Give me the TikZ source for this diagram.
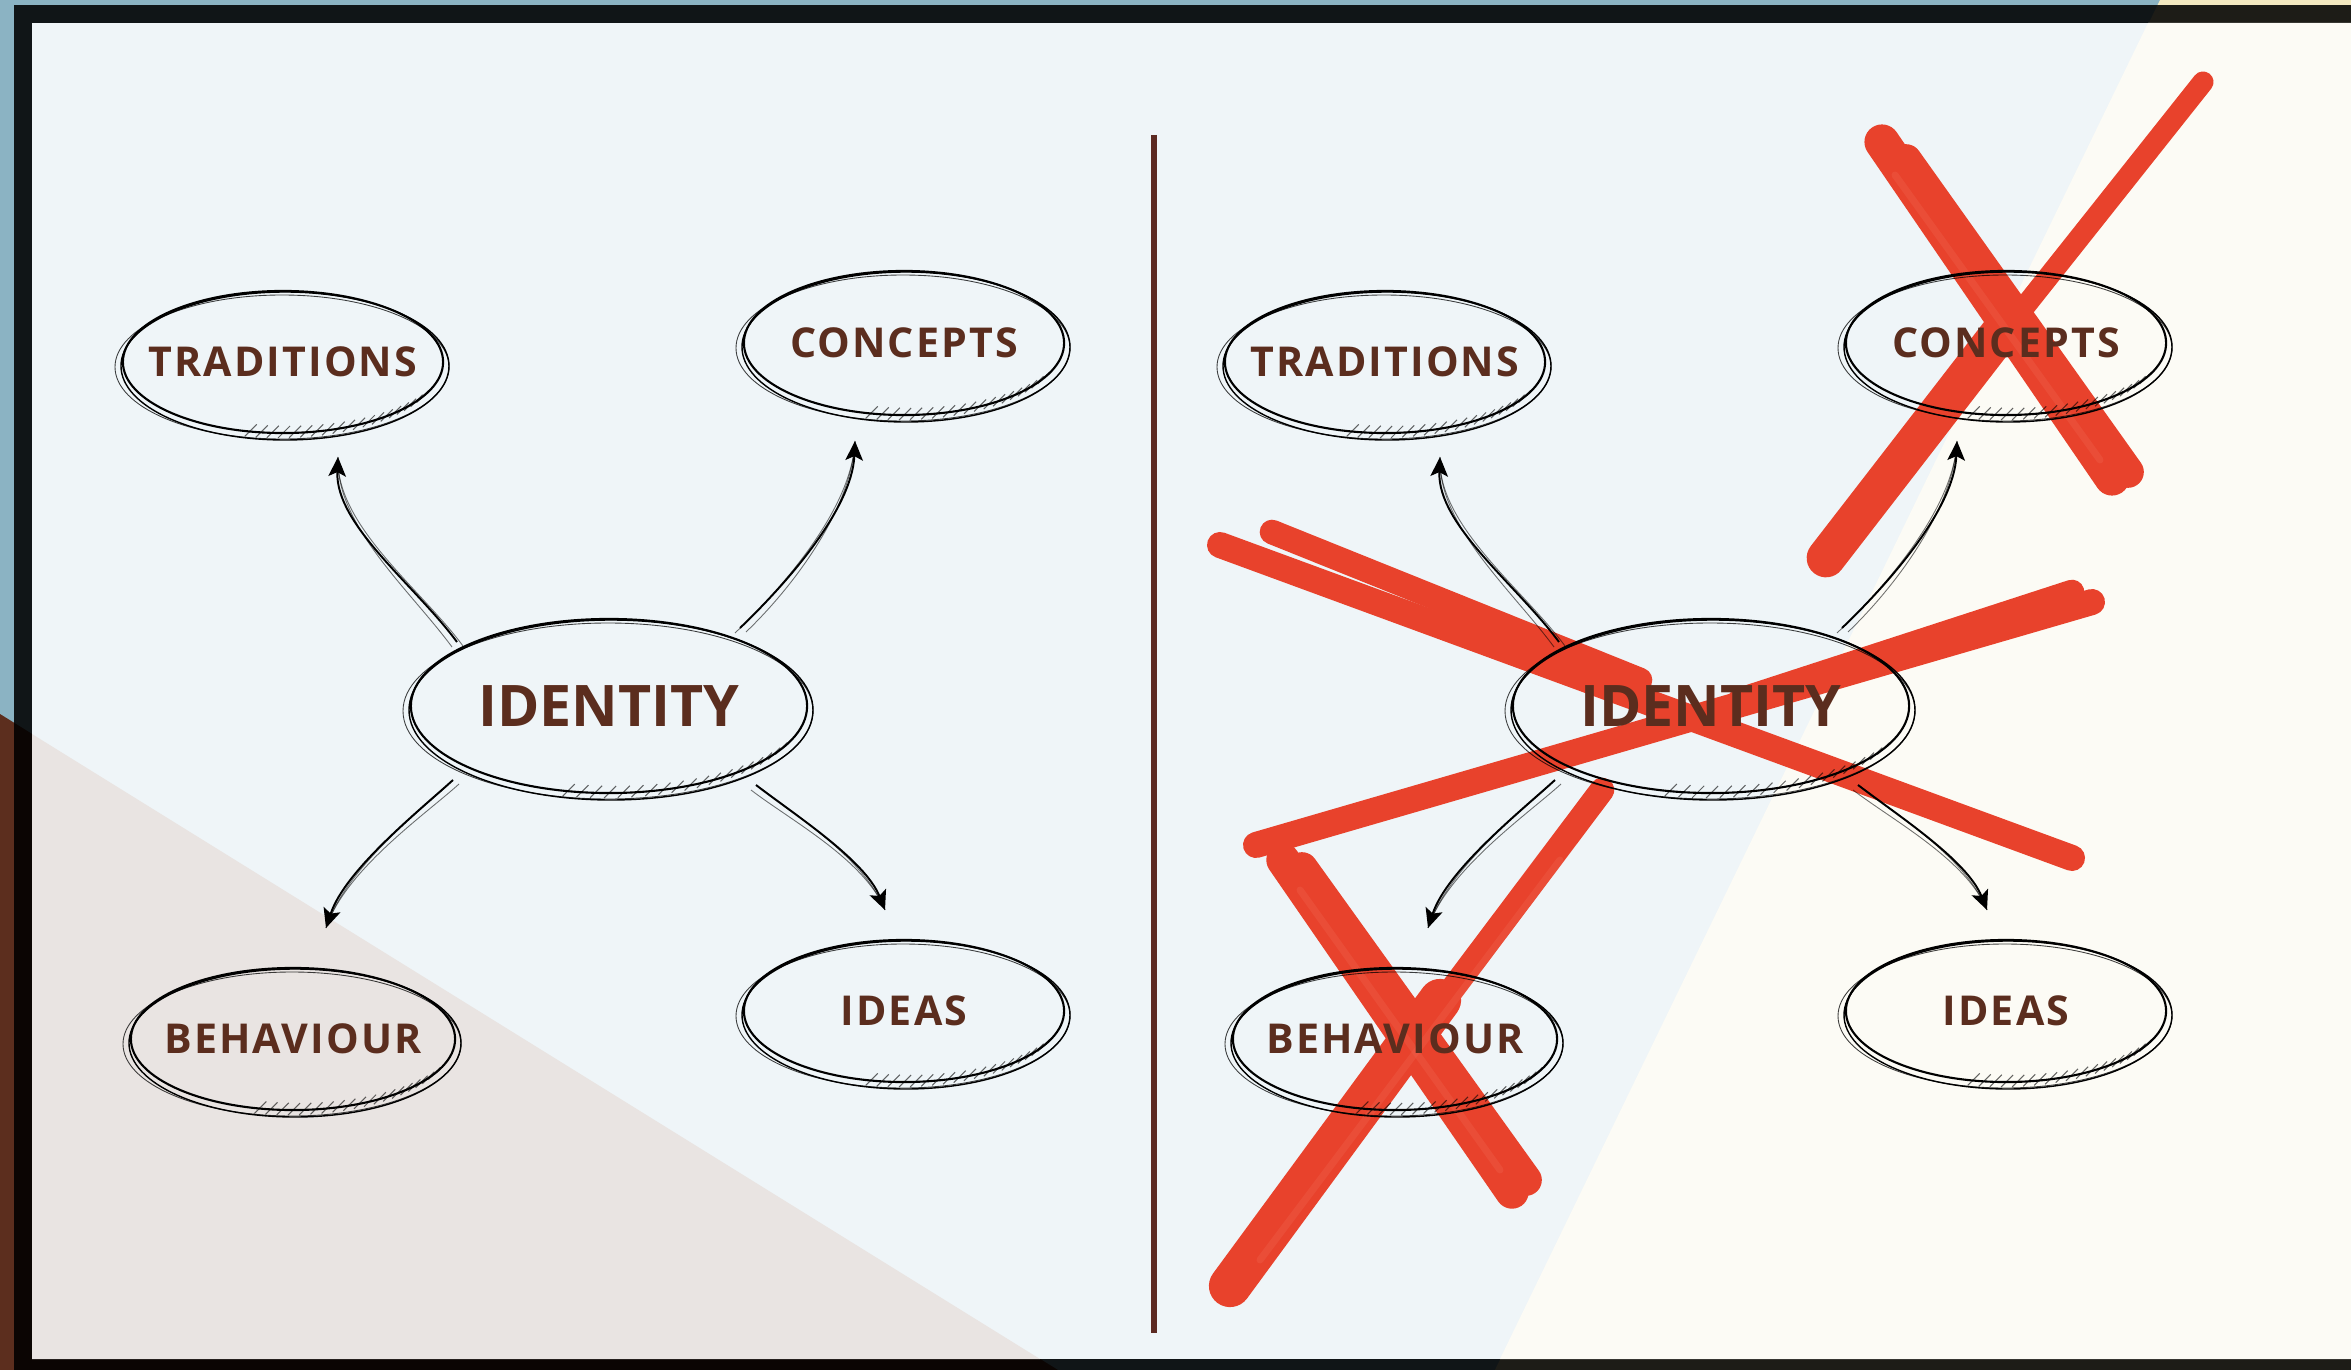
\documentclass[tikz,border=0pt]{standalone}
\usepackage{fontspec}
\newfontfamily\labfont{Open Sans}[LetterSpace=5]
\newfontfamily\idfont{Open Sans}
\usetikzlibrary{shapes.geometric,arrows.meta,calc}
\definecolor{outblue}{RGB}{139,179,195}
\definecolor{outbrown}{RGB}{92,46,30}
\definecolor{outyel}{RGB}{243,233,192}
\definecolor{inblue}{RGB}{239,245,248}
\definecolor{inbeige}{RGB}{233,228,226}
\definecolor{incream}{RGB}{252,251,245}
\definecolor{txtbrown}{RGB}{91,45,30}
\definecolor{divbrown}{RGB}{92,42,34}
\definecolor{brushred}{RGB}{232,66,44}
\definecolor{brushlight}{RGB}{238,98,78}
\tikzset{
  lab/.style={ellipse, draw=black, line width=0.6pt, inner xsep=-0.3cm, inner ysep=0pt,
    text=txtbrown, font={\labfont\bfseries\fontsize{11.7}{14}\selectfont}},
  idn/.style={ellipse, draw=black, line width=0.6pt, inner xsep=-0.3cm, inner ysep=0pt,
    text=txtbrown, font={\idfont\bfseries\fontsize{16.3}{19}\selectfont}},
  arr/.style={line width=0.55pt, black, -{Stealth[length=5.5pt,width=5pt,inset=1.2pt]}},
  strand/.style={line width=0.25pt, black, opacity=0.55},
  skA/.style={line width=0.4pt, black},
  skB/.style={line width=0.25pt, black, opacity=0.75},
  hatchline/.style={line width=0.3pt, black, opacity=0.6},
  divider/.style={line width=1.6pt, divbrown},
  redstroke/.style={draw=brushred, line cap=round},
  redlight/.style={draw=brushlight, line cap=round, opacity=0.35}
}
\newcommand\sketchring[3]{%
  \pgfmathsetmacro\rxa{#2+4}\pgfmathsetmacro\rya{#3+3}%
  \pgfmathsetmacro\rxb{#2+7}\pgfmathsetmacro\ryb{#3+1}%
  \draw[skA] ($(#1.center)+(2,4)$) ellipse [x radius=\rxa, y radius=\rya];
  \draw[skB] ($(#1.center)+(-1,5)$) ellipse [x radius=\rxb, y radius=\ryb];
  \foreach \t in {30,34,...,102} \draw[hatchline] ($(#1.center)+({#2*cos(\t)-5},{#3*sin(\t)+5})$) -- ++(12,-12);
}
\newcommand\conn[6]{%
  \draw[strand] ([shift={(#2)}]#1.center) ++(6,4) .. controls +#3 and +#4 .. ([shift={(#6)}]#5.center);
  \draw[strand] ([shift={(#2)}]#1.center) ++(-5,5) .. controls +#3 and +#4 .. ([shift={(#6)}]#5.center);
  \draw[arr] ([shift={(#2)}]#1.center) .. controls +#3 and +#4 .. ([shift={(#6)}]#5.center);
}
\begin{document}
\begin{tikzpicture}[x=0.01cm, y=-0.01cm]
\useasboundingbox (0,0) rectangle (2351,1370);
% outer backgrounds
\fill[outblue] (0,0) rectangle (2351,1370);
\fill[outbrown] (0,714) -- (1058,1370) -- (0,1370) -- cycle;
\fill[outyel] (2160,0) -- (2351,0) -- (2351,1370) -- (1495,1370) -- cycle;
\fill[black, opacity=0.88] (14,5) rectangle (2351,1370);
% inner slide
\fill[inblue] (32,23) rectangle (2351,1359);
\fill[inbeige] (32,734) -- (1040,1359) -- (32,1359) -- cycle;
\fill[incream] (2148,23) -- (2351,23) -- (2351,1359) -- (1500,1359) -- cycle;
% divider
\draw[divider] (1154,135) -- (1154,1333);
% red brush strokes (under the nodes)
% X over CONCEPTS
\draw[redstroke, line width=10pt] (1882,142) -- (2112,478);
\draw[redstroke, line width=9pt] (1906,160) -- (2128,472);
\draw[redstroke, line width=6pt] (2203,82) -- (1822,562);
\draw[redstroke, line width=11pt] (2010,320) -- (1826,558);
\draw[redlight, line width=2pt] (1895,175) -- (2100,460);
% X over IDENTITY
\draw[redstroke, line width=7.4pt] (1220,545) -- (2072,858);
\draw[redstroke, line width=7pt] (1272,532) -- (1640,680);
\draw[redstroke, line width=7.4pt] (1256,845) -- (2092,602);
\draw[redstroke, line width=7pt] (2072,592) -- (1740,700);
% X over BEHAVIOUR
\draw[redstroke, line width=9.5pt] (1283,860) -- (1512,1192);
\draw[redstroke, line width=9pt] (1302,868) -- (1526,1180);
\draw[redstroke, line width=7pt] (1602,790) -- (1226,1290);
\draw[redstroke, line width=12pt] (1440,1000) -- (1230,1286);
\draw[redlight, line width=2pt] (1300,890) -- (1500,1170);
\draw[redlight, line width=2pt] (1560,860) -- (1260,1260);
% left nodes
\node[lab, minimum width=3.20cm, minimum height=1.42cm] (ltr) at (283,362) {TRADITIONS};
\node[lab, minimum width=3.20cm, minimum height=1.44cm] (lco) at (904,343) {CONCEPTS};
\node[idn, minimum width=3.96cm, minimum height=1.74cm] (lid) at (609,706) {IDENTITY};
\node[lab, minimum width=3.24cm, minimum height=1.42cm] (lbe) at (293,1039) {BEHAVIOUR};
\node[lab, minimum width=3.20cm, minimum height=1.42cm] (lde) at (904,1011) {IDEAS};
% right nodes
\node[lab, minimum width=3.20cm, minimum height=1.42cm] (rtr) at (1385,362) {TRADITIONS};
\node[lab, minimum width=3.20cm, minimum height=1.44cm] (rco) at (2006,343) {CONCEPTS};
\node[idn, minimum width=3.96cm, minimum height=1.74cm] (rid) at (1711,706) {IDENTITY};
\node[lab, minimum width=3.24cm, minimum height=1.42cm] (rbe) at (1395,1039) {BEHAVIOUR};
\node[lab, minimum width=3.20cm, minimum height=1.42cm] (rde) at (2006,1011) {IDEAS};
% sketchy outlines
\sketchring{ltr}{160}{71}
\sketchring{lco}{160}{72}
\sketchring{lid}{198}{87}
\sketchring{lbe}{162}{71}
\sketchring{lde}{160}{71}
\sketchring{rtr}{160}{71}
\sketchring{rco}{160}{72}
\sketchring{rid}{198}{87}
\sketchring{rbe}{162}{71}
\sketchring{rde}{160}{71}
% connectors
\conn{lid}{-152,-64}{(-42,-57)}{(-3,68)}{ltr}{55,95}
\conn{lid}{131,-78}{(45,-43)}{(-3,69)}{lco}{-49,98}
\conn{lid}{-156,74}{(-33,30)}{(19,-58)}{lbe}{33,-111}
\conn{lid}{147,79}{(39,30)}{(-20,-50)}{lde}{-19,-101}
\conn{rid}{-152,-64}{(-42,-57)}{(-3,68)}{rtr}{55,95}
\conn{rid}{131,-78}{(45,-43)}{(-3,69)}{rco}{-49,98}
\conn{rid}{-156,74}{(-33,30)}{(19,-58)}{rbe}{33,-111}
\conn{rid}{147,79}{(39,30)}{(-20,-50)}{rde}{-19,-101}
\end{tikzpicture}
\end{document}
